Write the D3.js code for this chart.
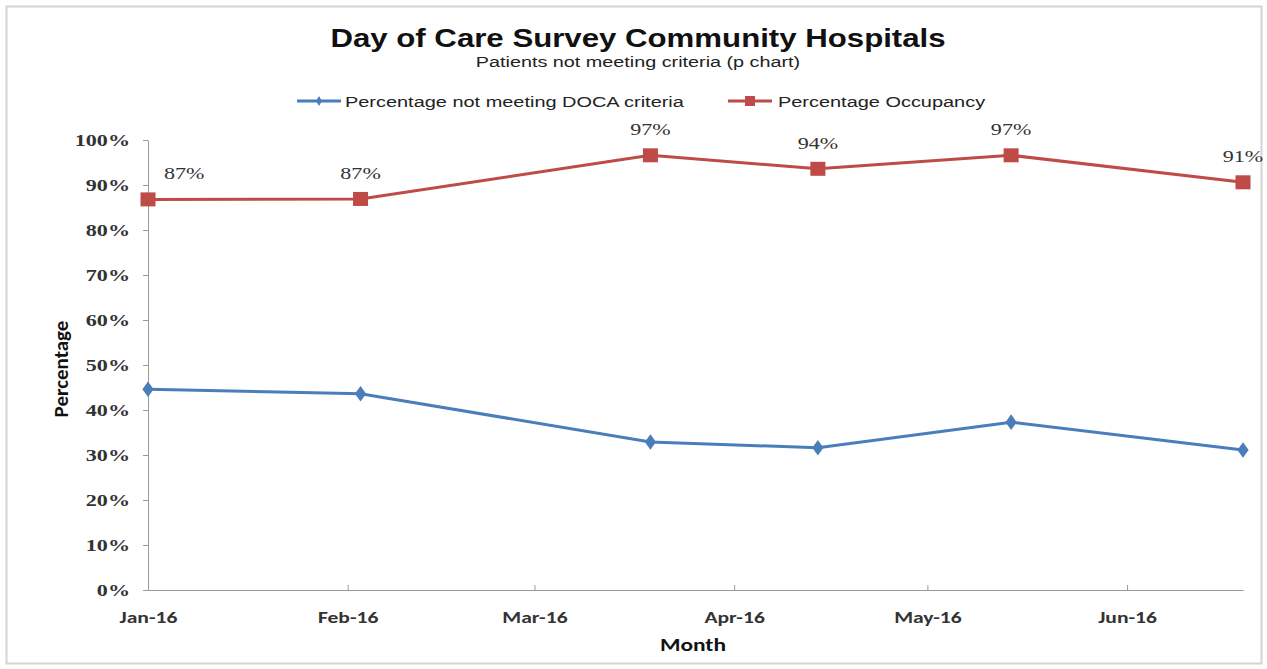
<!DOCTYPE html>
<meta charset="utf-8">
<style>
  body { margin: 0; background: #fff; }
  svg { display: block; }
  .title { font-family: Arial, "Liberation Sans", sans-serif; font-weight: bold; font-size: 26px; fill: #111; }
  .subtitle { font-family: Arial, "Liberation Sans", sans-serif; font-size: 15px; fill: #222; }
  .legend text { font-family: Arial, "Liberation Sans", sans-serif; font-size: 15px; fill: #222; }
  .axis path, .axis line { stroke: #999; }
  .y-axis text { font-family: "Liberation Serif", "DejaVu Serif", serif; font-weight: bold; font-size: 17px; fill: #333; }
  .x-axis text { font-family: Calibri, Carlito, Lato, sans-serif; font-weight: bold; font-size: 16px; fill: #333; }
  .axis-title { font-family: Calibri, Carlito, Lato, sans-serif; font-weight: bold; font-size: 17px; fill: #111; }
  .data-label { font-family: "Liberation Serif", "DejaVu Serif", serif; font-size: 17px; fill: #333; }
</style>
<body>
<script src="https://d3js.org/d3.v7.min.js"></script>
<script>
// data
var dates = ["2016-01-01", "2016-02-03", "2016-03-19", "2016-04-14", "2016-05-14", "2016-06-19"];
var notMeeting = [0.446, 0.436, 0.329, 0.316, 0.373, 0.311];
var occupancy = [0.868, 0.869, 0.966, 0.936, 0.966, 0.906];
var monthTicks = ["2016-01-01", "2016-02-01", "2016-03-01", "2016-04-01", "2016-05-01", "2016-06-01"];
var seriesNames = ["Percentage not meeting DOCA criteria", "Percentage Occupancy"];

var W = 1267, H = 669;
var margin = {top: 140, right: 24, bottom: 79, left: 148};
var w = W - margin.left - margin.right,
    h = H - margin.top - margin.bottom;

var parse = d3.timeParse("%Y-%m-%d");
var blueC = "#4A7EBB", redC = "#BE4B48";
// the picture is stretched sideways, so the texts are too
function stretch(tx, ty, s) { return "translate(" + tx + "," + ty + ") scale(" + s + ",1)"; }

var svg = d3.select("body").append("svg")
  .attr("width", W).attr("height", H);

// outer frame
svg.append("rect")
  .attr("x", 6.5).attr("y", 6.5).attr("width", W - 12).attr("height", H - 12)
  .attr("fill", "#fff").attr("stroke", "#d4d4d4").attr("stroke-width", 2);

svg.append("text").attr("class", "title")
  .attr("transform", stretch(638, 47, 1.2)).attr("text-anchor", "middle")
  .text("Day of Care Survey Community Hospitals");
svg.append("text").attr("class", "subtitle")
  .attr("transform", stretch(638, 67, 1.32)).attr("text-anchor", "middle")
  .text("Patients not meeting criteria (p chart)");

var x = d3.scaleTime()
  .domain([parse(dates[0]), parse(dates[dates.length - 1])])
  .range([0, w]);
var y = d3.scaleLinear().domain([0, 1]).range([h, 0]);

var chart = svg.append("g")
  .attr("transform", "translate(" + margin.left + "," + margin.top + ")");

var xaxis = d3.axisBottom(x)
  .tickValues(monthTicks.map(parse))
  .tickFormat(d3.timeFormat("%b-%y"))
  .tickSize(5).tickSizeOuter(0);
var yaxis = d3.axisLeft(y)
  .ticks(10).tickFormat(d3.format(".0%"))
  .tickSize(5).tickSizeOuter(0);

var gx = chart.append("g").attr("class", "axis x-axis")
  .attr("transform", "translate(0," + h + ")")
  .call(xaxis);
gx.selectAll(".tick line").attr("y1", -5).attr("y2", 0);
gx.selectAll(".tick text").attr("dy", "1.55em").attr("transform", "scale(1.35,1)");

var gy = chart.append("g").attr("class", "axis y-axis").call(yaxis);
gy.selectAll(".tick text").attr("x", 0).attr("transform", stretch(-18, 0, 1.3));

chart.append("text").attr("class", "axis-title")
  .attr("transform", stretch(545, h + 61, 1.38)).attr("text-anchor", "middle")
  .text("Month");
chart.append("text").attr("class", "axis-title")
  .style("font-size", "21px")
  .attr("transform", "translate(-80," + (h / 2 + 4) + ") rotate(-90)")
  .attr("text-anchor", "middle")
  .text("Percentage");

var blueData = dates.map(function(d, i) { return {date: parse(d), val: notMeeting[i]}; });
var redData = dates.map(function(d, i) { return {date: parse(d), val: occupancy[i]}; });

var line = d3.line()
  .x(function(d) { return x(d.date); })
  .y(function(d) { return y(d.val); });

chart.append("path").attr("d", line(blueData))
  .attr("fill", "none").attr("stroke", blueC).attr("stroke-width", 3);
chart.append("path").attr("d", line(redData))
  .attr("fill", "none").attr("stroke", redC).attr("stroke-width", 3);

var diamond = d3.symbol().type(d3.symbolDiamond).size(70);
chart.selectAll(".blue-pt").data(blueData).enter().append("path")
  .attr("class", "blue-pt")
  .attr("d", diamond)
  .attr("transform", function(d) { return stretch(x(d.date), y(d.val), 1.25); })
  .attr("fill", blueC);

chart.selectAll(".red-pt").data(redData).enter().append("rect")
  .attr("class", "red-pt")
  .attr("x", function(d) { return x(d.date) - 7.5; })
  .attr("y", function(d) { return y(d.val) - 7; })
  .attr("width", 15).attr("height", 14)
  .attr("fill", redC);

chart.selectAll(".data-label").data(redData).enter().append("text")
  .attr("class", "data-label")
  .attr("transform", function(d, i) {
    return stretch(i === 0 ? x(d.date) + 16 : x(d.date), y(d.val) - 20, 1.3);
  })
  .attr("text-anchor", function(d, i) { return i === 0 ? "start" : "middle"; })
  .text(function(d) { return d3.format(".0%")(d.val); });

// legend
var legend = svg.append("g").attr("class", "legend");
var legendX = [297, 728];
var colors = [blueC, redC];
seriesNames.forEach(function(name, i) {
  var g = legend.append("g").attr("transform", "translate(" + legendX[i] + ",101)");
  g.append("line").attr("x1", 0).attr("x2", 44).attr("y1", 0).attr("y2", 0)
    .attr("stroke", colors[i]).attr("stroke-width", 3);
  if (i === 0) {
    g.append("path").attr("d", d3.symbol().type(d3.symbolDiamond).size(30))
      .attr("transform", "translate(22,0)").attr("fill", colors[i]);
  } else {
    g.append("rect").attr("x", 17).attr("y", -5).attr("width", 10).attr("height", 10)
      .attr("fill", colors[i]);
  }
  g.append("text").attr("transform", stretch(i === 0 ? 48 : 50, 6, 1.33)).text(name);
});
</script>
</body>
